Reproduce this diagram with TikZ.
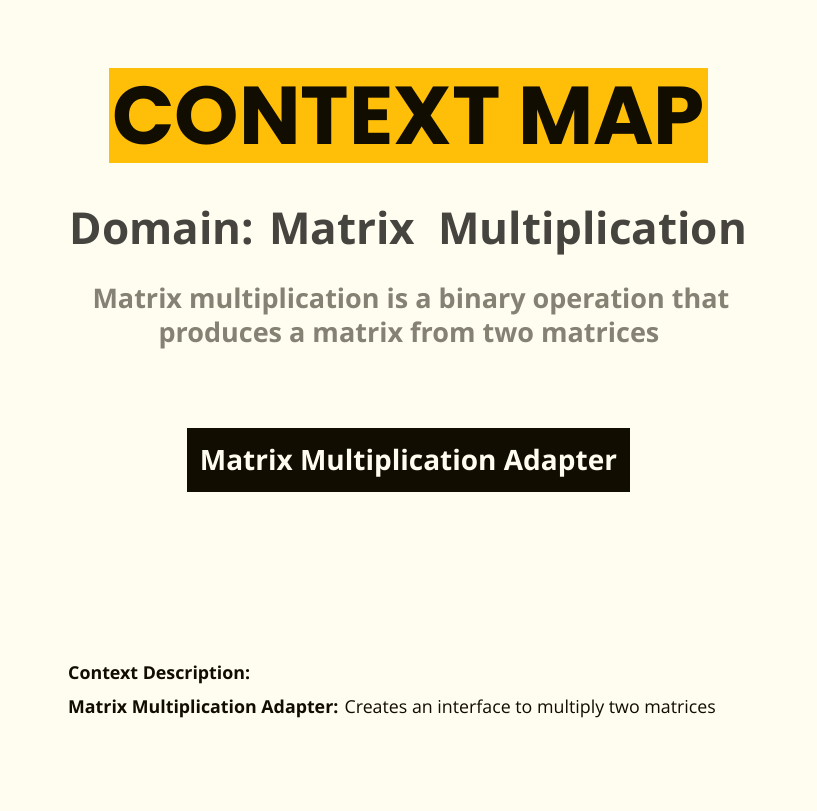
\documentclass[tikz,border=0pt]{standalone}
\usepackage{fontspec}
\setmainfont{Open Sans}
\newfontfamily\titlefont{Poppins}
\definecolor{bgcream}{HTML}{FFFCF0}
\definecolor{ctxyellow}{HTML}{FFBE07}
\definecolor{ctxdark}{HTML}{110D00}
\definecolor{domaingray}{HTML}{46443F}
\definecolor{subgray}{HTML}{858274}

\begin{document}
\begin{tikzpicture}[x=1pt,y=-1pt,
    every node/.style={inner sep=0pt},
    domtext/.style={font=\bfseries\fontsize{44}{44}\selectfont, text=domaingray},
    subtext/.style={font=\bfseries\fontsize{27}{27}\selectfont, text=subgray},
    desctext/.style={font=\fontsize{17.8}{17.8}\selectfont, text=ctxdark}]
    \fill[bgcream] (0,0) rectangle (817,811);
    % title
    \node[fill=ctxyellow, minimum width=599pt, minimum height=95pt] (title) at (408.5,115.5) {};
    \node[font=\titlefont\bfseries\fontsize{82}{82}\selectfont, text=ctxdark] (titletext) at (title.center) {CONTEXT MAP};
    % domain
    \node[domtext, anchor=base] (domain) at (408.5,244) {Domain: Matrix\ \ Multiplication};
    \node[subtext, anchor=base] (subone) at (411,308) {Matrix multiplication is a binary operation that};
    \node[subtext, anchor=base] (subtwo) at (409,342) {produces a matrix from two matrices};
    % context
    \node[fill=ctxdark, minimum width=443pt, minimum height=64pt] (adapter) at (408.5,460) {};
    \node[font=\bfseries\fontsize{28}{28}\selectfont, text=bgcream, anchor=base] (adaptertext) at (408.5,470) {Matrix Multiplication Adapter};
    % description
    \node[desctext, anchor=base west] (deschead) at (68,679) {\bfseries Context Description:};
    \node[desctext, anchor=base west] (descline) at (68,713) {\textbf{Matrix Multiplication Adapter:} Creates an interface to multiply two matrices};
\end{tikzpicture}
\end{document}
